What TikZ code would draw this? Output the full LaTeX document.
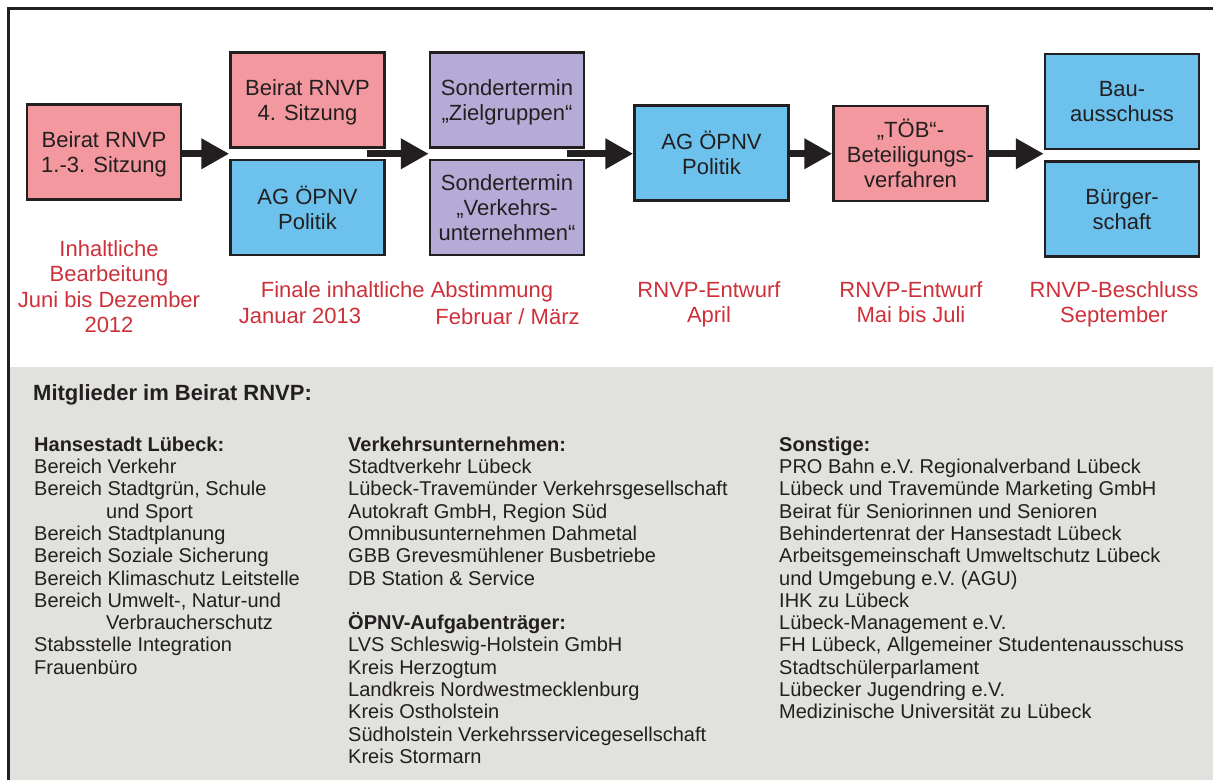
\documentclass[tikz,border=0pt]{standalone}
\usepackage{fontspec}
\setmainfont{Liberation Sans}
\usetikzlibrary{positioning,calc,arrows.meta}
\definecolor{rosa}{RGB}{242,152,158}
\definecolor{hellblau}{RGB}{108,194,236}
\definecolor{lila}{RGB}{180,172,214}
\definecolor{grau}{RGB}{225,225,221}
\definecolor{rot}{RGB}{206,48,58}
\definecolor{dunkel}{RGB}{35,31,32}

\begin{document}
\begin{tikzpicture}
[
    x=1pt, y=-1pt,
    box/.style={draw=dunkel, line width=2.5pt, text=dunkel, minimum width=154pt, minimum height=95pt, inner sep=0pt, text depth=0pt, align=center, font=\fontsize{22}{25}\selectfont},
    rosabox/.style={box, fill=rosa},
    blaubox/.style={box, fill=hellblau},
    lilabox/.style={box, fill=lila},
    termin/.style={text=rot, inner sep=0pt, align=center, anchor=north, font=\fontsize{22}{25.5}\selectfont},
    liste/.style={text=dunkel, inner sep=0pt, align=left, anchor=north west, font=\fontsize{20}{22.3}\selectfont},
    pfeil/.style={draw=dunkel, line width=7pt, -{Triangle[length=28pt, width=29pt]}},
]
\useasboundingbox (0,0) rectangle (1213,780);
\fill[grau] (10,367) rectangle (1213,780);
\draw[dunkel, line width=3pt] (8.5,780) -- (8.5,8) -- (1213,8);

\node[rosabox] (beiratA) at (104,152) {Beirat RNVP\\1.-3. Sitzung};
\node[rosabox] (beiratB) at (307.5,100) {Beirat RNVP\\4. Sitzung};
\node[blaubox, below=10pt of beiratB] (agA) {AG ÖPNV\\Politik};
\node[lilabox] (sonderZ) at (507,100) {Sondertermin\\„Zielgruppen“};
\node[lilabox, below=10pt of sonderZ] (sonderV) {Sondertermin\\„Verkehrs-\\unternehmen“};
\node[blaubox] (agB) at (711.5,153) {AG ÖPNV\\Politik};
\node[rosabox] (toeb) at (910.5,153.5) {„TÖB“-\\Beteiligungs-\\verfahren};
\node[blaubox] (bau) at (1122,101.5) {Bau-\\ausschuss};
\node[blaubox, below=10pt of bau] (buerger) {Bürger-\\schaft};

\coordinate (lueckeB) at ($(beiratB.south)!.5!(agA.north)$);
\coordinate (startB) at ($(lueckeB -| beiratB.east)+(-19,0)$);
\coordinate (lueckeS) at ($(sonderZ.south)!.5!(sonderV.north)$);
\coordinate (startS) at ($(lueckeS -| sonderZ.east)+(-18,0)$);
\draw[pfeil] (beiratA.east |- lueckeB) -- (lueckeB -| beiratB.west);
\draw[pfeil] (startB) -- (startB -| sonderZ.west);
\draw[pfeil] (startS) -- (startS -| agB.west);
\draw[pfeil] (agB.east |- lueckeS) -- (toeb.west |- lueckeS);
\draw[pfeil] (toeb.east |- lueckeS) -- (bau.west |- lueckeS);

\node[termin] (bearb) at (109,240) {Inhaltliche\\Bearbeitung\\Juni bis Dezember\\2012};
\node[termin] (finale) at (407,281) {Finale inhaltliche Abstimmung};
\node[termin] (januar) at (300,308) {Januar 2013};
\node[termin] (februar) at (507.5,308) {Februar / März};
\node[termin] (april) at (709,281) {RNVP-Entwurf\\April};
\node[termin] (mai) at (911,281) {RNVP-Entwurf\\Mai bis Juli};
\node[termin] (sept) at (1114,281) {RNVP-Beschluss\\September};

\node[liste, anchor=base west, font=\bfseries\fontsize{22}{26}\selectfont] (titel) at (33,400) {Mitglieder im Beirat RNVP:};
\node[liste] (hansestadt) at (34,436.5) {\textbf{Hansestadt Lübeck:}\\Bereich Verkehr\\Bereich Stadtgrün, Schule\\\hspace*{72pt}und Sport\\Bereich Stadtplanung\\Bereich Soziale Sicherung\\Bereich Klimaschutz Leitstelle\\Bereich Umwelt-, Natur-und\\\hspace*{72pt}Verbraucherschutz\\Stabsstelle Integration\\Frauenbüro};
\node[liste] (verkehr) at (348,436.5) {\textbf{Verkehrsunternehmen:}\\Stadtverkehr Lübeck\\Lübeck-Travemünder Verkehrsgesellschaft\\Autokraft GmbH, Region Süd\\Omnibusunternehmen Dahmetal\\GBB Grevesmühlener Busbetriebe\\DB Station \& Service\\[22.3pt]\textbf{ÖPNV-Aufgabenträger:}\\LVS Schleswig-Holstein GmbH\\Kreis Herzogtum\\Landkreis Nordwestmecklenburg\\Kreis Ostholstein\\Südholstein Verkehrsservicegesellschaft\\Kreis Stormarn};
\node[liste] (sonstige) at (779,436.5) {\textbf{Sonstige:}\\PRO Bahn e.V. Regionalverband Lübeck\\Lübeck und Travemünde Marketing GmbH\\Beirat für Seniorinnen und Senioren\\Behindertenrat der Hansestadt Lübeck\\Arbeitsgemeinschaft Umweltschutz Lübeck\\und Umgebung e.V. (AGU)\\IHK zu Lübeck\\Lübeck-Management e.V.\\FH Lübeck, Allgemeiner Studentenausschuss\\Stadtschülerparlament\\Lübecker Jugendring e.V.\\Medizinische Universität zu Lübeck};
\end{tikzpicture}
\end{document}
